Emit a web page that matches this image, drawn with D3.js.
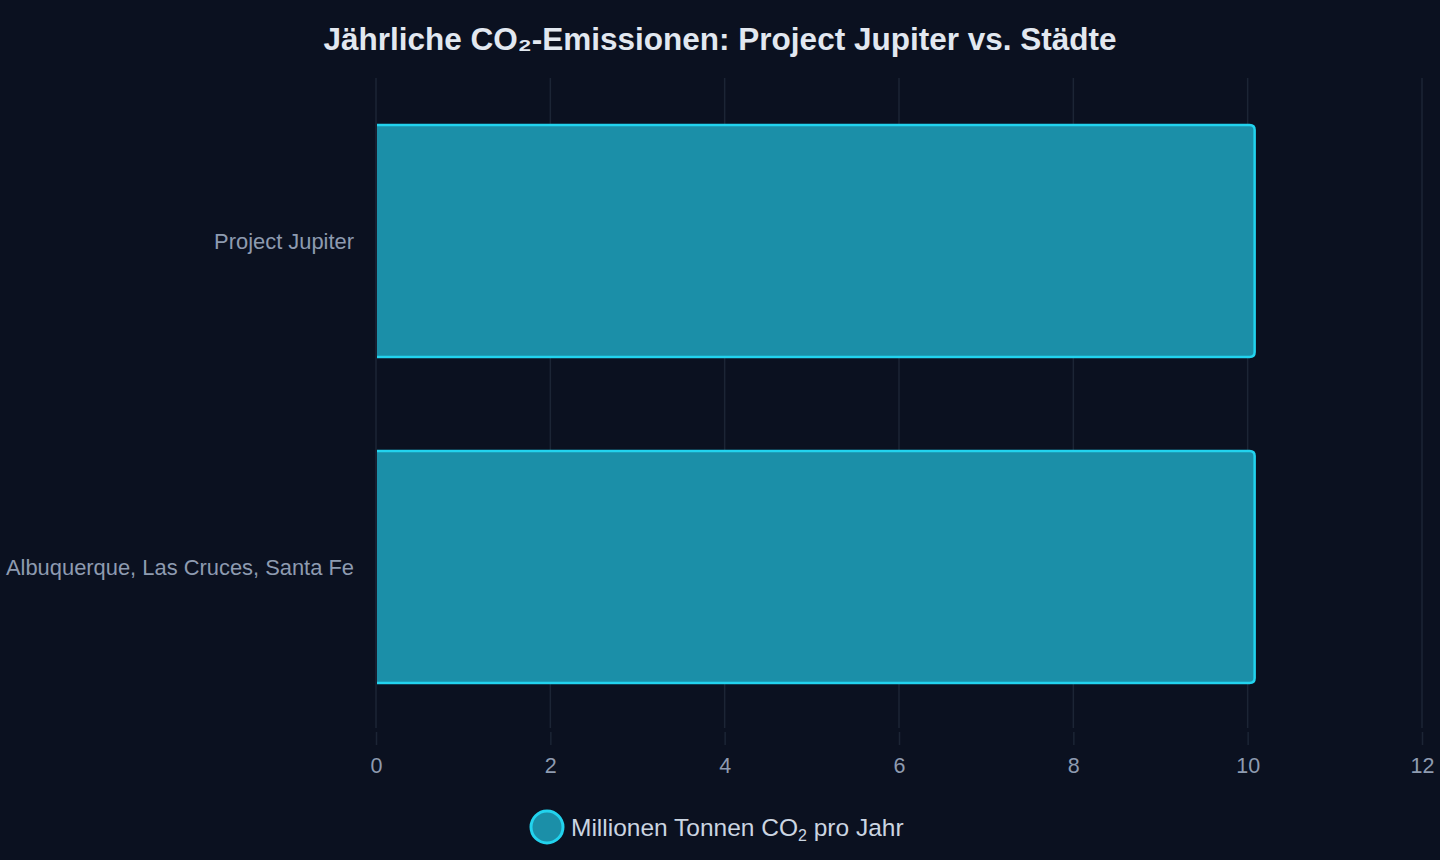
<!DOCTYPE html>
<html>
<head>
<meta charset="utf-8">
<script src="https://cdn.jsdelivr.net/npm/d3@7"></script>
<style>
html,body{margin:0;padding:0;background:#0b1120;}
svg{display:block;font-family:"Liberation Sans",Arial,sans-serif;}
</style>
</head>
<body>
<svg id="chart" width="1440" height="860"></svg>
<script>
// data
var categories = ["Project Jupiter", "Albuquerque, Las Cruces, Santa Fe"]
var emissions = [10.08, 10.08]
var xTicks = [0, 2, 4, 6, 8, 10, 12]
var seriesName = "Millionen Tonnen CO"

var chart = {
	width: 1440,
	height: 860,
	left: 376,
	right: 1422,
	top: 78,
	bottom: 730
}

var svg = d3.select("#chart")

svg.append("rect")
	.attr("width", chart.width)
	.attr("height", chart.height)
	.attr("fill", "#0b1120")

var x = d3.scaleLinear()
	.domain([0, 12])
	.range([chart.left, chart.right])

var y = d3.scaleBand()
	.domain(categories)
	.range([chart.top, chart.bottom])
	.paddingInner(0.288)
	.paddingOuter(0.144)

// grid lines
svg.append("g")
	.selectAll("line")
	.data(xTicks)
	.enter()
	.append("line")
	.attr("x1", function(d){ return x(d) })
	.attr("x2", function(d){ return x(d) })
	.attr("y1", chart.top)
	.attr("y2", chart.bottom - 2)
	.attr("stroke", "#1c2535")
	.attr("stroke-width", 1.5)

// x axis ticks + labels
var xAxis = svg.append("g")
	.attr("transform", "translate(0," + (chart.bottom + 2) + ")")
	.call(d3.axisBottom(x).tickValues(xTicks).tickSize(13).tickPadding(12.5).tickFormat(d3.format("d")))

xAxis.select(".domain").remove()
xAxis.selectAll(".tick line")
	.attr("stroke", "#1c2535")
	.attr("stroke-width", 1.5)
xAxis.selectAll(".tick text")
	.attr("fill", "#8e9bb0")
	.attr("font-size", 21.5)
	.attr("font-family", "'Liberation Sans',Arial,sans-serif")

// bars: flat on the left, rounded on the right
function barPath(d, i) {
	var x0 = x(0) + 1,
		x1 = x(d),
		y0 = y(categories[i]),
		h = y.bandwidth(),
		r = 5
	return "M" + x0 + "," + y0 +
		"H" + (x1 - r) +
		"Q" + x1 + "," + y0 + " " + x1 + "," + (y0 + r) +
		"V" + (y0 + h - r) +
		"Q" + x1 + "," + (y0 + h) + " " + (x1 - r) + "," + (y0 + h) +
		"H" + x0
}

svg.append("g")
	.selectAll("path")
	.data(emissions)
	.enter()
	.append("path")
	.attr("d", barPath)
	.attr("fill", "#1b8fa8")
	.attr("stroke", "#22d3ee")
	.attr("stroke-width", 2.5)

// category labels
svg.append("g")
	.selectAll("text")
	.data(categories)
	.enter()
	.append("text")
	.attr("x", chart.left - 22)
	.attr("y", function(d){ return y(d) + y.bandwidth() / 2 })
	.attr("dy", "0.35em")
	.attr("text-anchor", "end")
	.attr("fill", "#8e9bb0")
	.attr("font-size", 21.9)
	.text(function(d){ return d })

// title
svg.append("text")
	.attr("x", 720)
	.attr("y", 50)
	.attr("text-anchor", "middle")
	.attr("fill", "#e2e8f0")
	.attr("font-size", 31.5)
	.attr("font-weight", "bold")
	.text("Jährliche CO₂-Emissionen: Project Jupiter vs. Städte")

// legend
var legend = svg.append("g")
legend.append("circle")
	.attr("cx", 547)
	.attr("cy", 827)
	.attr("r", 16)
	.attr("fill", "#1b8fa8")
	.attr("stroke", "#22d3ee")
	.attr("stroke-width", 3)

var lt = legend.append("text")
	.attr("x", 571)
	.attr("y", 836)
	.attr("fill", "#cbd5e1")
	.attr("font-size", 24.5)
lt.append("tspan").text(seriesName)
lt.append("tspan").attr("font-size", 16).attr("dy", 5).text("2")
lt.append("tspan").attr("dy", -5).text(" pro Jahr")
</script>
</body>
</html>
